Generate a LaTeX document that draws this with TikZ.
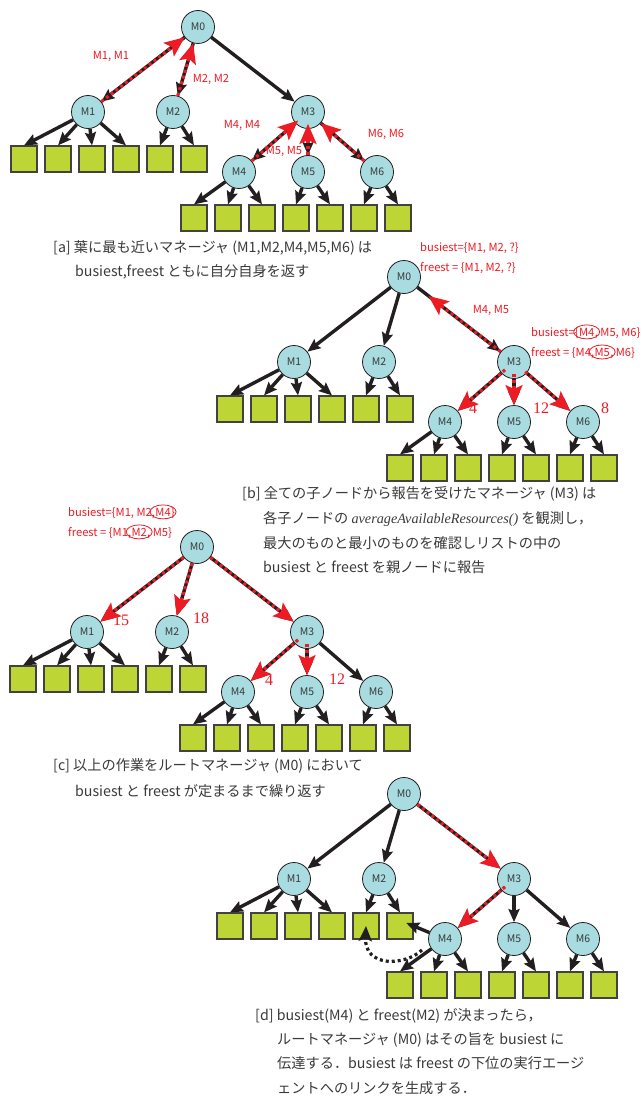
\documentclass[tikz,border=0pt]{standalone}
\usepackage{fontspec}
\setmainfont{Noto Sans CJK JP}
\newfontfamily\serifnum{Liberation Serif}
\usetikzlibrary{arrows.meta}
\definecolor{mred}{HTML}{ED1C24}
\definecolor{mblue}{HTML}{A8DCE0}
\definecolor{mgreen}{HTML}{BDD636}
\definecolor{mblack}{HTML}{231F20}
\definecolor{mtext}{HTML}{3A3A3A}
\tikzset{
 mgr/.style={circle, draw=mblack, line width=0.8pt, fill=mblue, minimum size=33pt, inner sep=0pt, font=\fontsize{10.5}{12}\selectfont, text=mtext},
 leaf/.style={rectangle, draw=mblack!85, line width=1.2pt, fill=mgreen, minimum size=26pt, inner sep=0pt},
 arr/.style={draw=mblack, line width=3.4pt, -{Stealth[length=13pt,width=11pt,inset=2pt]}},
 redarr/.style={draw=mred, line width=3.2pt, dash pattern=on 3pt off 3pt, -{Stealth[length=20pt,width=17pt,inset=4pt,fill=mred]}},
 dotarr/.style={draw=mblack, line width=3.2pt, dash pattern=on 3pt off 3pt, -{Stealth[length=15pt,width=13pt,inset=3pt,fill=mblack]}},
 rlab/.style={text=mred, font=\fontsize{11.2}{13}\selectfont, inner sep=0pt},
 rnum/.style={text=mred, font=\serifnum\fontsize{16}{17}\selectfont, inner sep=0pt},
 captxt/.style={text=mtext, font=\fontsize{14.2}{16}\selectfont, anchor=base west, inner sep=0pt},
 oval/.style={draw=mred, line width=0.8pt},
}
\newcommand\drawtree[3]{%
\begin{scope}[shift={(#2,#3)}]
\node[mgr] (#1M0) at (198,27) {M0};
\node[mgr] (#1M1) at (88,112) {M1};
\node[mgr] (#1M2) at (173,112) {M2};
\node[mgr] (#1M3) at (308,112) {M3};
\node[mgr] (#1M4) at (239,172) {M4};
\node[mgr] (#1M5) at (308,172) {M5};
\node[mgr] (#1M6) at (377,172) {M6};
\foreach \i/\x in {1/24,2/58,3/92,4/126,5/160,6/194} \node[leaf] (#1L\i) at (\x,159) {};
\foreach \i/\x in {1/194,2/228,3/262,4/296,5/330,6/364,7/398} \node[leaf] (#1K\i) at (\x,218) {};
\end{scope}
\foreach \c in {1,2,3} \draw[arr] (#1M0) -- (#1M\c);
\foreach \c in {4,5,6} \draw[arr] (#1M3) -- (#1M\c);
\foreach \i in {1,2,3,4} \draw[arr] (#1M1) -- (#1L\i.north);
\foreach \i in {5,6} \draw[arr] (#1M2) -- (#1L\i.north);
\foreach \i in {1,2,3} \draw[arr] (#1M4) -- (#1K\i.north);
\foreach \i in {4,5} \draw[arr] (#1M5) -- (#1K\i.north);
\foreach \i in {6,7} \draw[arr] (#1M6) -- (#1K\i.north);
}
\begin{document}
\begin{tikzpicture}[x=1pt,y=-1pt]
\fill[white] (0,0) rectangle (642,1097);
\useasboundingbox (0,0) rectangle (642,1097);
% ---------- panel a
\drawtree{a}{0}{0}
\draw[redarr] (aM1) -- (aM0);
\draw[redarr] (aM2) -- (aM0);
\draw[redarr, shorten >=-4pt] (aM4) -- (aM3);
\draw[redarr, shorten >=-5pt] (aM5) -- (aM3);
\draw[redarr] (aM6) -- (aM3);
\node[rlab] (la1) at (111,56) {M1, M1};
\node[rlab] (la2) at (211,79) {M2, M2};
\node[rlab] (la4) at (242,125) {M4, M4};
\node[rlab] (la5) at (284,151) {M5, M5};
\node[rlab] (la6) at (386,134) {M6, M6};
\node[captxt] (ca1) at (53,252) {[a] 葉に最も近いマネージャ (M1,M2,M4,M5,M6) は};
\node[captxt] (ca2) at (75,276) {busiest,freest ともに自分自身を返す};
% ---------- panel b
\drawtree{b}{206}{250}
\draw[redarr, shorten >=14pt] (bM3) -- (bM0);
\draw[redarr, shorten <=-5pt] (bM3) -- (bM4);
\draw[redarr, shorten <=-5pt] (bM3) -- (bM5);
\draw[redarr, shorten <=-2pt] (bM3) -- (bM6);
\node[rlab, anchor=base west] (lb1) at (420,251) {busiest=\{M1, M2, ?\}};
\node[rlab, anchor=base west] (lb2) at (420,271) {freest = \{M1, M2, ?\}};
\node[rlab] (lb3) at (491,310) {M4, M5};
\node[rlab, anchor=base west] (lb4a) at (531,336) {busiest=\{};
\node[rlab, anchor=base west] (lb4b) at (lb4a.base east) {M4};
\node[rlab, anchor=base west] (lb4c) at (lb4b.base east) {, M5, M6\}};
\draw[oval] (lb4b.center) ellipse [x radius=13pt, y radius=7pt];
\node[rlab, anchor=base west] (lb5a) at (531,356) {freest = \{M4, };
\node[rlab, anchor=base west] (lb5b) at (lb5a.base east) {M5};
\node[rlab, anchor=base west] (lb5c) at (lb5b.base east) {, M6\}};
\draw[oval] (lb5b.center) ellipse [x radius=13pt, y radius=7pt];
\node[rnum] (nb1) at (473,408) {4};
\node[rnum] (nb2) at (541,408) {12};
\node[rnum] (nb3) at (605,408) {8};
\node[captxt] (cb1) at (242,498) {[b] 全ての子ノードから報告を受けたマネージャ (M3) は};
\node[captxt] (cb2) at (263,523) {各子ノードの {\serifnum\itshape averageAvailableResources()} を観測し，};
\node[captxt] (cb3) at (263,548) {最大のものと最小のものを確認しリストの中の};
\node[captxt] (cb4) at (263,572) {busiest と freest を親ノードに報告};
% ---------- panel c
\drawtree{c}{-1}{520}
\draw[redarr] (cM0) -- (cM1);
\draw[redarr] (cM0) -- (cM2);
\draw[redarr] (cM0) -- (cM3);
\draw[redarr, shorten <=-5pt] (cM3) -- (cM4);
\draw[redarr, shorten <=-5pt] (cM3) -- (cM5);
\node[rlab, anchor=base west] (lc1a) at (68,516) {busiest=\{M1, M2, };
\node[rlab, anchor=base west] (lc1b) at (lc1a.base east) {M4};
\node[rlab, anchor=base west] (lc1c) at (lc1b.base east) {\}};
\draw[oval] (lc1b.center) ellipse [x radius=13pt, y radius=7pt];
\node[rlab, anchor=base west] (lc2a) at (68,536) {freest = \{M1, };
\node[rlab, anchor=base west] (lc2b) at (lc2a.base east) {M2};
\node[rlab, anchor=base west] (lc2c) at (lc2b.base east) {, M5\}};
\draw[oval] (lc2b.center) ellipse [x radius=13pt, y radius=7pt];
\node[rnum] (nc1) at (121,620) {15};
\node[rnum] (nc2) at (201,618) {18};
\node[rnum] (nc3) at (269,680) {4};
\node[rnum] (nc4) at (337,679) {12};
\node[captxt] (cc1) at (53,770) {[c] 以上の作業をルートマネージャ (M0) において};
\node[captxt] (cc2) at (75,796) {busiest と freest が定まるまで繰り返す};
% ---------- panel d
\drawtree{d}{206}{767}
\draw[redarr] (dM0) -- (dM3);
\draw[redarr, shorten <=-5pt] (dM3) -- (dM4);
\draw[arr, shorten >=-8pt] (dM4) -- (dL6.east);
\coordinate (dcs) at (422,950);
\draw[dotarr] (dcs) .. controls (405,966) and (364,968) .. (dL5.center);
\node[captxt] (cd1) at (255,1020) {[d] busiest(M4) と freest(M2) が決まったら，};
\node[captxt] (cd2) at (277,1044) {ルートマネージャ (M0) はその旨を busiest に};
\node[captxt] (cd3) at (277,1068) {伝達する．busiest は freest の下位の実行エージ};
\node[captxt] (cd4) at (277,1093) {ェントへのリンクを生成する．};
\end{tikzpicture}
\end{document}
